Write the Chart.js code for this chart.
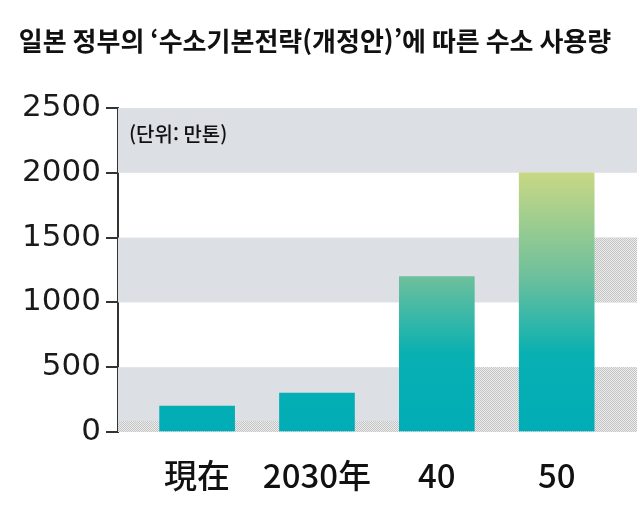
<!DOCTYPE html>
<html lang="ko">
<head>
<meta charset="UTF-8">
<title>수소 사용량</title>
<script src="https://cdn.jsdelivr.net/npm/chart.js@4.4.4/dist/chart.umd.min.js"></script>
</head>
<body style="margin:0; background:#fff;">
<div style="width:640px; height:507px;">
    <canvas id="h2Chart" width="640" height="507"></canvas>
</div>
<script>
    // 데이터
    const titleText = '일본 정부의 ‘수소기본전략(개정안)’에 따른 수소 사용량';
    const unitText = '(단위: 만톤)';
    const categories = ['現在', '2030年', '40', '50'];
    const usage = [200, 300, 1200, 2000];
    const yTicks = [0, 500, 1000, 1500, 2000, 2500];
    const bands = [[0, 500], [1000, 1500], [2000, 2500]];

    // 배경 띠, 제목, 단위
    const decorPlugin = {
        id: 'decor',
        beforeDatasetsDraw(chart) {
            const { ctx, chartArea: a, scales: { x, y } } = chart;
            ctx.save();
            ctx.fillStyle = '#dcdfe3';
            bands.forEach(([lo, hi]) => {
                const top = y.getPixelForValue(hi), bot = y.getPixelForValue(lo);
                ctx.fillRect(a.left, top, a.right - a.left, bot - top);
            });
            // 점무늬 부분
            const pc = document.createElement('canvas');
            pc.width = 2; pc.height = 2;
            const p = pc.getContext('2d');
            p.fillStyle = '#ececec'; p.fillRect(0, 0, 2, 2);
            p.fillStyle = '#c4c4c4'; p.fillRect(0, 0, 1, 1); p.fillRect(1, 1, 1, 1);
            ctx.fillStyle = ctx.createPattern(pc, 'repeat');
            const y0 = y.getPixelForValue(0);
            ctx.fillRect(a.left, y.getPixelForValue(85), a.right - a.left, y0 - y.getPixelForValue(85));
            const x40 = x.getPixelForValue(2) + 38;
            ctx.fillRect(x40, y.getPixelForValue(500), a.right - x40, y0 - y.getPixelForValue(500));
            const x50 = x.getPixelForValue(3) + 38;
            ctx.fillRect(x50, y.getPixelForValue(1500), a.right - x50, y.getPixelForValue(1000) - y.getPixelForValue(1500));
            ctx.restore();
        },
        afterDraw(chart) {
            const { ctx, chartArea: a } = chart;
            ctx.save();
            ctx.fillStyle = '#111';
            ctx.textBaseline = 'middle';
            ctx.textAlign = 'center';
            ctx.font = 'bold 26px "Noto Sans CJK KR"';
            ctx.fillText(titleText, 315, 41);
            ctx.textAlign = 'left';
            ctx.font = '500 20px "Noto Sans CJK KR"';
            ctx.fillText(unitText, a.left + 11, 134);
            ctx.restore();
        }
    };

    function barGradient(ctx) {
        const chart = ctx.chart;
        const { chartArea, scales } = chart;
        if (!chartArea) return '#00adb5';
        const y = scales.y;
        const g = chart.ctx.createLinearGradient(0, y.getPixelForValue(0), 0, y.getPixelForValue(2000));
        g.addColorStop(0, '#00acb6');
        g.addColorStop(0.3, '#08b0b2');
        g.addColorStop(0.6, '#6ec09c');
        g.addColorStop(1, '#c8d884');
        return g;
    }

    new Chart(document.getElementById('h2Chart'), {
        type: 'bar',
        data: {
            datasets: [{
                data: usage.map((v, i) => ({ x: i, y: v })),
                backgroundColor: barGradient,
                barThickness: 75,
                borderWidth: 0
            }]
        },
        options: {
            responsive: false,
            animation: false,
            layout: { padding: { top: 108, right: 3, left: 0, bottom: 0 } },
            plugins: { legend: { display: false }, tooltip: { enabled: false } },
            scales: {
                x: {
                    type: 'linear',
                    offset: false,
                    min: -0.66,
                    max: 3.67,
                    afterBuildTicks(scale) { scale.ticks = categories.map((c, i) => ({ value: i })); },
                    afterFit(scale) { scale.height = 75; },
                    grid: { display: false },
                    border: { display: false },
                    ticks: {
                        callback: v => categories[v],
                        color: '#111',
                        font: { family: '"Noto Sans CJK JP"', size: 33, weight: 500 },
                        padding: 16,
                        maxRotation: 0
                    }
                },
                y: {
                    min: 0,
                    max: 2500,
                    afterBuildTicks(scale) { scale.ticks = yTicks.map(v => ({ value: v })); },
                    afterFit(scale) { scale.width = 118; },
                    grid: { drawOnChartArea: false, drawTicks: true, tickLength: 12, color: '#333', lineWidth: 2 },
                    border: { display: true, color: '#333', width: 2 },
                    ticks: {
                        callback: v => String(v),
                        color: '#1a1a1a',
                        font: { family: '"DejaVu Sans"', size: 31 },
                        padding: 5
                    }
                }
            }
        },
        plugins: [decorPlugin]
    });
</script>
</body>
</html>
